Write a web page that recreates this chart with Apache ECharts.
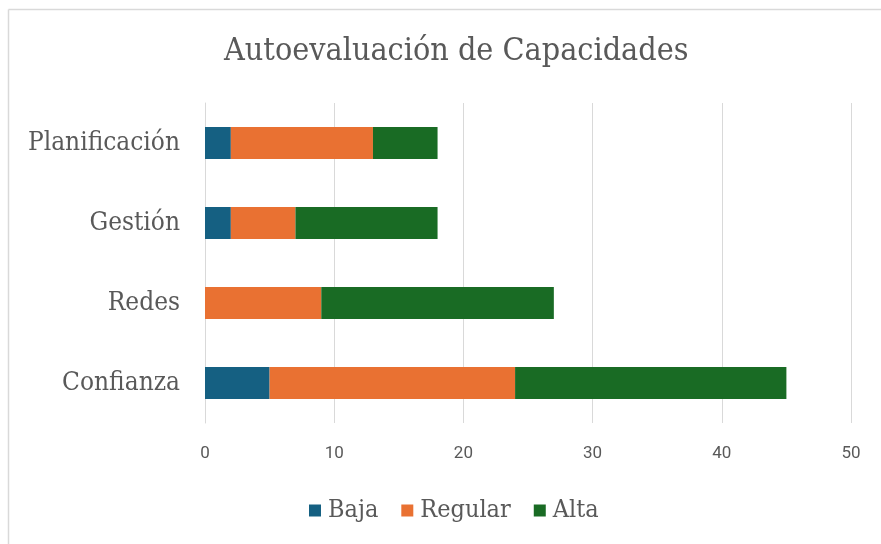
<!DOCTYPE html>
<html><head><meta charset="utf-8">
<script src="https://cdn.jsdelivr.net/npm/echarts@6/dist/echarts.min.js"></script>
<style>html,body{margin:0;padding:0;background:#fff}#c{width:881px;height:544px}</style>
</head><body><div id="c"></div>
<script>
const categories = ['Confianza', 'Redes', 'Gestión', 'Planificación'];
const baja = [5, 0, 2, 2];
const regular = [19, 9, 5, 11];
const alta = [21, 18, 11, 5];
const seriesNames = ['Baja', 'Regular', 'Alta'];
const colors = ['#156082', '#E97132', '#196B24'];
const serif = '"DejaVu Serif Condensed", "Liberation Serif", serif';

const chart = echarts.init(document.getElementById('c'), null, {renderer: 'canvas'});
const mk = (name, data, i) => ({
  name, type: 'bar', stack: 'total', data, barWidth: '40%',
  itemStyle: {color: colors[i]}, emphasis: {disabled: true}
});
chart.setOption({
  animation: false,
  title: {text: 'Autoevaluación de Capacidades', left: 219, top: 31,
    textStyle: {fontFamily: serif, fontWeight: 'normal', fontSize: 32, color: '#595959'}},
  legend: {bottom: 16, left: 304, itemWidth: 12, itemHeight: 12, itemGap: 23,
    icon: 'rect', textStyle: {fontFamily: serif, fontSize: 25, color: '#595959', padding: [0, 0, 0, 2]}},
  grid: {left: 205, right: 30, top: 103, bottom: 121},
  xAxis: {type: 'value', min: 0, max: 50, interval: 10,
    axisLine: {show: false}, axisTick: {show: false},
    splitLine: {lineStyle: {color: '#d9d9d9', width: 1}},
    axisLabel: {fontFamily: 'Roboto, "Liberation Sans", sans-serif', fontSize: 17, color: '#595959', margin: 22}},
  yAxis: {type: 'category', data: categories,
    axisLine: {lineStyle: {color: '#d9d9d9'}}, axisTick: {show: false},
    axisLabel: {fontFamily: serif, fontSize: 26, color: '#595959', margin: 25}},
  graphic: [
    {type: 'line', shape: {x1: 8.5, y1: 9.5, x2: 881, y2: 9.5}, style: {stroke: '#d9d9d9', lineWidth: 1.5}},
    {type: 'line', shape: {x1: 8.5, y1: 9.5, x2: 8.5, y2: 544}, style: {stroke: '#d9d9d9', lineWidth: 1.5}}
  ],
  series: [mk(seriesNames[0], baja, 0), mk(seriesNames[1], regular, 1), mk(seriesNames[2], alta, 2)]
});
</script></body></html>
